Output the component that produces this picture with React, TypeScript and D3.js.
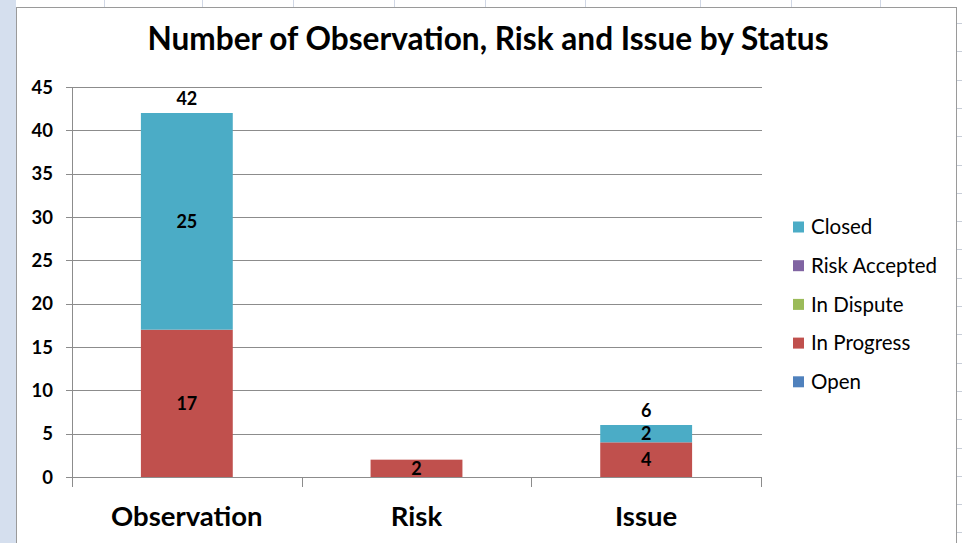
import * as d3 from "d3";

const categories = ["Observation", "Risk", "Issue"];
const statuses = ["Open", "In Progress", "In Dispute", "Risk Accepted", "Closed"];
const openValues = [0, 0, 0];
const inProgressValues = [17, 2, 4];
const inDisputeValues = [0, 0, 0];
const riskAcceptedValues = [0, 0, 0];
const closedValues = [25, 0, 2];
const yTicks = [0, 5, 10, 15, 20, 25, 30, 35, 40, 45];

const colors: Record<string, string> = {
  Open: "#4f81bd",
  "In Progress": "#c0504d",
  "In Dispute": "#9bbb59",
  "Risk Accepted": "#8064a2",
  Closed: "#4bacc6",
};

const W = 962;
const H = 543;
const font = "Lato, 'Open Sans', sans-serif";

// spreadsheet cells behind the chart
const colLines = [104, 202, 293, 394, 485, 585, 700, 791, 880];
const rowLines = d3.range(23, H, 28.3);

type Row = { category: string; [k: string]: number | string };

const rows: Row[] = categories.map((c, i) => ({
  category: c,
  Open: openValues[i],
  "In Progress": inProgressValues[i],
  "In Dispute": inDisputeValues[i],
  "Risk Accepted": riskAcceptedValues[i],
  Closed: closedValues[i],
}));

const App = () => {
  const x = d3
    .scaleBand<string>()
    .domain(categories)
    .range([72, 761])
    .paddingInner(0.6)
    .paddingOuter(0.3);
  const y = d3.scaleLinear().domain([0, 45]).range([477, 87]);

  const stack = d3.stack<Row>().keys(statuses).value((d, k) => d[k] as number);
  const series = stack(rows);
  const totals = rows.map((r) => statuses.reduce((s, k) => s + (r[k] as number), 0));

  const bounds = [0, 1, 2, 3].map((i) => 72 + i * (689 / 3));
  const cx = (c: string) => (x(c) ?? 0) + x.bandwidth() / 2;

  return (
    <svg
      width={W}
      height={H}
      style={{ position: "absolute", left: 0, top: 0, background: "#fff" }}
      fontFamily={font}
    >
      {/* spreadsheet background */}
      <rect x={0} y={0} width={16} height={H} fill="#d5dfee" />
      {colLines.map((lx) => (
        <line key={lx} x1={lx + 0.5} x2={lx + 0.5} y1={0} y2={7} stroke="#d0d7e5" />
      ))}
      {rowLines.map((ry) => (
        <line key={ry} x1={957} x2={W} y1={Math.round(ry) + 0.5} y2={Math.round(ry) + 0.5} stroke="#c8ced8" />
      ))}
      {/* chart area */}
      <rect x={16.5} y={7.5} width={940} height={H} fill="#fff" stroke="#9a9a9a" />

      <text x={488} y={50} textAnchor="middle" fontSize={31.6} fontWeight="bold" fill="#000">
        Number of Observation, Risk and Issue by Status
      </text>

      {/* gridlines + y axis */}
      {yTicks.map((t) => (
        <g key={t}>
          <line
            x1={66}
            x2={762}
            y1={Math.round(y(t)) + 0.5}
            y2={Math.round(y(t)) + 0.5}
            stroke="#8c8c8c"
          />
          <text
            x={53}
            y={y(t)}
            dy="0.36em"
            textAnchor="end"
            fontSize={18.5}
            fontWeight="bold"
            fill="#000"
          >
            {t}
          </text>
        </g>
      ))}
      <line x1={72.5} x2={72.5} y1={y(45)} y2={y(0)} stroke="#8c8c8c" />
      {bounds.map((b) => (
        <line key={b} x1={Math.round(b) + 0.5} x2={Math.round(b) + 0.5} y1={y(0)} y2={y(0) + 10} stroke="#8c8c8c" />
      ))}

      {/* bars */}
      {series.map((s) => (
        <g key={s.key} fill={colors[s.key]}>
          {s.map((d, i) =>
            d[1] - d[0] > 0 ? (
              <rect
                key={i}
                x={x(categories[i])}
                y={y(d[1])}
                width={x.bandwidth()}
                height={y(d[0]) - y(d[1])}
              />
            ) : null
          )}
        </g>
      ))}
      {series.map((s) =>
        s.map((d, i) =>
          d[1] - d[0] > 0 ? (
            <text
              key={s.key + i}
              x={cx(categories[i])}
              y={y((d[0] + d[1]) / 2)}
              dy="0.36em"
              textAnchor="middle"
              fontSize={18}
              fontWeight="bold"
              fill="#000"
            >
              {d[1] - d[0]}
            </text>
          ) : null
        )
      )}
      {/* totals above stacks */}
      {totals.map((t, i) =>
        categories[i] !== "Risk" ? (
          <text
            key={i}
            x={cx(categories[i])}
            y={y(t) - 14}
            dy="0.36em"
            textAnchor="middle"
            fontSize={18}
            fontWeight="bold"
            fill="#000"
          >
            {t}
          </text>
        ) : null
      )}

      {/* category labels */}
      {categories.map((c) => (
        <text key={c} x={cx(c)} y={526} textAnchor="middle" fontSize={27.5} fontWeight="bold" fill="#000">
          {c}
        </text>
      ))}

      {/* legend */}
      {[...statuses].reverse().map((k, i) => (
        <g key={k} transform={`translate(793, ${227 + i * 38.7})`}>
          <rect x={0} y={-5.5} width={11} height={11} fill={colors[k]} />
          <text x={18} y={0} dy="0.35em" fontSize={20.5} fill="#000">
            {k}
          </text>
        </g>
      ))}
    </svg>
  );
};

export default App;
